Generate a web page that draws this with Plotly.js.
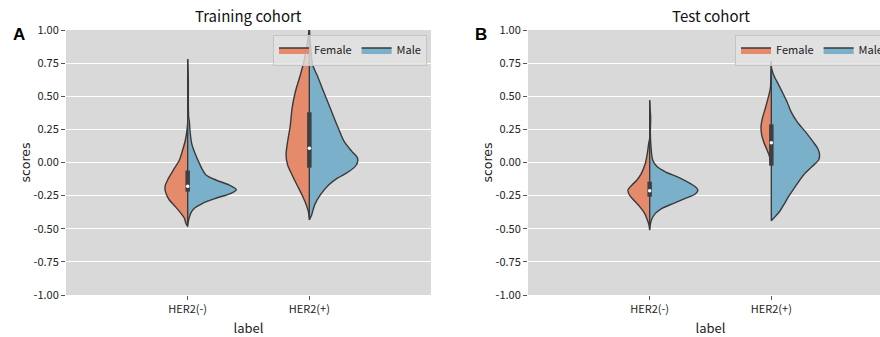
<!DOCTYPE html>
<html><head><meta charset="utf-8">
<script src="https://cdn.plot.ly/plotly-3.0.1.min.js"></script>
<style>html,body{margin:0;padding:0;overflow:hidden;background:#fff}#chart{width:900px;height:337px}</style>
</head><body><div id="chart"></div>
<script>
const categories = ['HER2(-)', 'HER2(+)'];
const groups = ['Female', 'Male'];
const yTickVals = [-1, -0.75, -0.5, -0.25, 0, 0.25, 0.5, 0.75, 1];
const yTickText = ['-1.00', '-0.75', '-0.50', '-0.25', '0.00', '0.25', '0.50', '0.75', '1.00'];
const panelTitles = ['Training cohort', 'Test cohort'];
const panelLetters = ['A', 'B'];

// Violin profiles: score values (Y) and relative density (D, 1 = widest half)
const trainNegFemaleY = [0.30, 0.245, 0.17, 0.094, 0.019, -0.057, -0.12, -0.182, -0.233, -0.283, -0.333, -0.384, -0.42, -0.46, -0.484];
const trainNegFemaleD = [0, 0.014, 0.047, 0.103, 0.17, 0.294, 0.396, 0.466, 0.446, 0.376, 0.253, 0.138, 0.068, 0.035, 0];
const trainNegMaleY = [0.78, 0.70, 0.598, 0.45, 0.347, 0.31, 0.245, 0.145, 0.07, -0.006, -0.057, -0.094, -0.132, -0.17, -0.203, -0.233, -0.27, -0.308, -0.346, -0.384, -0.434, -0.47];
const trainNegMaleD = [0, 0.008, 0.014, 0.014, 0.02, 0.035, 0.047, 0.082, 0.15, 0.24, 0.308, 0.376, 0.58, 0.856, 1.0, 0.889, 0.58, 0.308, 0.138, 0.062, 0.02, 0];
const trainPosFemaleY = [1.05, 0.95, 0.887, 0.786, 0.66, 0.534, 0.409, 0.283, 0.157, 0.057, -0.019, -0.094, -0.17, -0.245, -0.32, -0.37, -0.42];
const trainPosFemaleD = [0, 0.02, 0.047, 0.097, 0.185, 0.287, 0.355, 0.39, 0.446, 0.478, 0.446, 0.355, 0.253, 0.15, 0.062, 0.02, 0];
const trainPosMaleY = [1.05, 0.95, 0.836, 0.736, 0.66, 0.534, 0.409, 0.283, 0.157, 0.082, 0.032, -0.019, -0.07, -0.12, -0.17, -0.245, -0.32, -0.396, -0.434];
const trainPosMaleD = [0, 0.01, 0.035, 0.068, 0.158, 0.294, 0.431, 0.569, 0.719, 0.877, 0.992, 0.965, 0.807, 0.569, 0.396, 0.226, 0.109, 0.047, 0];

const testNegFemaleY = [0.18, 0.145, 0.07, -0.006, -0.082, -0.132, -0.17, -0.208, -0.245, -0.283, -0.333, -0.384, -0.434, -0.47, -0.51];
const testNegFemaleD = [0, 0.02, 0.047, 0.088, 0.17, 0.26, 0.363, 0.446, 0.417, 0.329, 0.205, 0.103, 0.047, 0.015, 0];
const testNegMaleY = [0.47, 0.40, 0.346, 0.22, 0.12, 0.019, -0.031, -0.07, -0.107, -0.145, -0.183, -0.208, -0.238, -0.27, -0.308, -0.346, -0.384, -0.434, -0.484, -0.50];
const testNegMaleD = [0, 0.01, 0.02, 0.014, 0.027, 0.062, 0.15, 0.322, 0.561, 0.766, 0.938, 0.992, 0.938, 0.733, 0.493, 0.253, 0.117, 0.035, 0.006, 0];
const testPosFemaleY = [0.766, 0.70, 0.61, 0.56, 0.484, 0.409, 0.333, 0.27, 0.208, 0.157, 0.107, 0.057, 0.006, -0.02];
const testPosFemaleD = [0, 0.006, 0.012, 0.02, 0.068, 0.123, 0.185, 0.212, 0.199, 0.158, 0.103, 0.047, 0.014, 0];
const testPosMaleY = [0.72, 0.66, 0.61, 0.535, 0.459, 0.384, 0.308, 0.233, 0.157, 0.107, 0.057, 0.019, -0.031, -0.094, -0.17, -0.245, -0.32, -0.37, -0.421, -0.44];
const testPosMaleD = [0, 0.047, 0.117, 0.22, 0.322, 0.404, 0.528, 0.698, 0.856, 0.951, 0.992, 0.971, 0.836, 0.663, 0.513, 0.376, 0.253, 0.17, 0.047, 0];

// inner box stats per category [HER2(-), HER2(+)]
const trainQ1 = [-0.22, -0.039];
const trainMedian = [-0.18, 0.107];
const trainQ3 = [-0.06, 0.379];
const testQ1 = [-0.258, -0.024];
const testMedian = [-0.213, 0.15];
const testQ3 = [-0.145, 0.288];

// ---------- drawing ----------
const W = 900, H = 337;
const HALF = 0.4;
const colors = {Female: '#E68A6C', Male: '#7BB0CA'};
const outline = '#3a3a3a';

const panels = [
  {xa: 'x', ya: 'y', legend: 'legend',
   halves: [[0, 'Female', trainNegFemaleY, trainNegFemaleD], [0, 'Male', trainNegMaleY, trainNegMaleD],
            [1, 'Female', trainPosFemaleY, trainPosFemaleD], [1, 'Male', trainPosMaleY, trainPosMaleD]],
   q1: trainQ1, med: trainMedian, q3: trainQ3},
  {xa: 'x2', ya: 'y2', legend: 'legend2',
   halves: [[0, 'Female', testNegFemaleY, testNegFemaleD], [0, 'Male', testNegMaleY, testNegMaleD],
            [1, 'Female', testPosFemaleY, testPosFemaleD], [1, 'Male', testPosMaleY, testPosMaleD]],
   q1: testQ1, med: testMedian, q3: testQ3}
];

const traces = [];
panels.forEach((p, pi) => {
  const shown = {};
  p.halves.forEach(([cat, g, ys, ds]) => {
    const side = g === 'Female' ? -1 : 1;
    traces.push({
      type: 'scatter', mode: 'lines', xaxis: p.xa, yaxis: p.ya,
      x: ys.map((y, i) => cat + side * ds[i] * HALF), y: ys,
      fill: 'toself', fillcolor: colors[g],
      line: {color: outline, width: 1.4, shape: 'spline', smoothing: 0.8},
      name: g, legend: p.legend, legendgroup: g + pi,
      showlegend: !shown[g], hoverinfo: 'skip'
    });
    shown[g] = true;
  });
  categories.forEach((c, ci) => {
    const ys = [].concat(...p.halves.filter(h => h[0] === ci).map(h => h[2]));
    traces.push({type: 'scatter', mode: 'lines', xaxis: p.xa, yaxis: p.ya,
      x: [ci, ci], y: [Math.min(...ys), Math.max(...ys)],
      line: {color: outline, width: 1.4}, showlegend: false, hoverinfo: 'skip'});
    traces.push({type: 'scatter', mode: 'lines', xaxis: p.xa, yaxis: p.ya,
      x: [ci, ci], y: [p.q1[ci], p.q3[ci]],
      line: {color: '#3f3f3f', width: 4.5}, showlegend: false, hoverinfo: 'skip'});
    traces.push({type: 'scatter', mode: 'markers', xaxis: p.xa, yaxis: p.ya,
      x: [ci], y: [p.med[ci]],
      marker: {color: '#ffffff', size: 3.5, line: {width: 0}}, showlegend: false, hoverinfo: 'skip'});
  });
});

const fontMain = '"Noto Sans CJK SC", "Noto Sans", sans-serif';
function xAxis(domain, anchor) {
  return {domain: domain, anchor: anchor, range: [-1, 2], tickvals: [0, 1], ticktext: categories,
    showgrid: false, zeroline: false, showline: false, ticks: 'outside', ticklen: 4, tickwidth: 1,
    tickcolor: '#555', tickfont: {size: 11, color: '#222'},
    title: {text: 'label', font: {size: 13, color: '#222'}, standoff: 9}, fixedrange: true};
}
function yAxis(anchor) {
  return {domain: [42 / H, 307 / H], anchor: anchor, range: [-1, 1], tickvals: yTickVals, ticktext: yTickText,
    showgrid: true, gridcolor: '#ffffff', gridwidth: 1.2, zeroline: false, showline: false,
    ticks: 'outside', ticklen: 4, tickwidth: 1, tickcolor: '#555', tickfont: {size: 11, color: '#222'},
    title: {text: 'scores', font: {family: 'DejaVu Sans', size: 12.5, color: '#222'}, standoff: 0}, fixedrange: true};
}
const legendStyle = (xRight) => ({orientation: 'h', x: xRight / W, xanchor: 'right', y: 1 - 34.5 / H, yanchor: 'top',
  bgcolor: 'rgba(226,226,226,0.8)', bordercolor: '#c4c4c4', borderwidth: 1, font: {size: 11, color: '#222'},
  itemwidth: 30, traceorder: 'normal'});

const letterFont = {family: '"Liberation Sans", Arial, sans-serif', size: 17, color: '#000'};
const layout = {
  width: W, height: H, margin: {l: 0, r: 0, t: 0, b: 0},
  paper_bgcolor: '#ffffff', plot_bgcolor: '#d9d9d9',
  font: {family: fontMain, color: '#222', size: 11},
  xaxis: xAxis([66 / W, 431 / W], 'y'), yaxis: yAxis('x'),
  xaxis2: xAxis([528 / W, 893 / W], 'y2'), yaxis2: yAxis('x2'),
  legend: legendStyle(427), legend2: legendStyle(889),
  annotations: [
    {text: panelTitles[0], x: 248.5 / W, y: 1 - 16 / H, xref: 'paper', yref: 'paper', showarrow: false,
     xanchor: 'center', yanchor: 'middle', font: {size: 15, color: '#111'}},
    {text: panelTitles[1], x: 710.5 / W, y: 1 - 16 / H, xref: 'paper', yref: 'paper', showarrow: false,
     xanchor: 'center', yanchor: 'middle', font: {size: 15, color: '#111'}},
    {text: '<b>' + panelLetters[0] + '</b>', x: 18.7 / W, y: 1 - 34 / H, xref: 'paper', yref: 'paper', showarrow: false,
     xanchor: 'center', yanchor: 'middle', font: letterFont},
    {text: '<b>' + panelLetters[1] + '</b>', x: 480.5 / W, y: 1 - 34 / H, xref: 'paper', yref: 'paper', showarrow: false,
     xanchor: 'center', yanchor: 'middle', font: letterFont}
  ]
};

Plotly.newPlot('chart', traces, layout, {staticPlot: true, displayModeBar: false});
</script>
</body></html>
